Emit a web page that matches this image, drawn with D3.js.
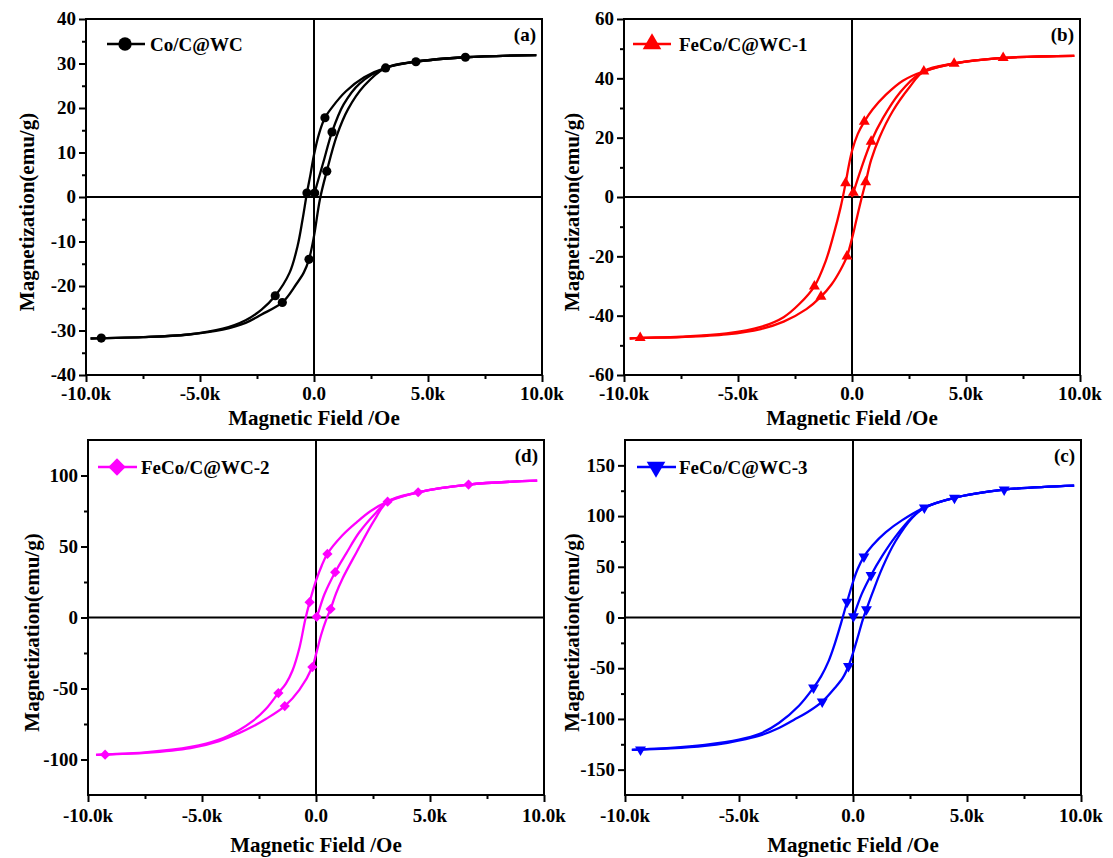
<!DOCTYPE html>
<html><head><meta charset="utf-8">
<script src="https://cdn.jsdelivr.net/npm/d3@7"></script>
<style>
body{margin:0;background:#fff;}
svg{display:block;}
</style>
</head><body>
<svg id="chart" width="1113" height="858" font-family="'Liberation Serif', 'Times New Roman', Times, serif" font-weight="bold"></svg>
<script>
// ---------------- DATA ----------------
const xTickValues = [-10000, -5000, 0, 5000, 10000];
const xTickLabels = ["-10.0k", "-5.0k", "0.0", "5.0k", "10.0k"];
const xMinorValues = [-7500, -2500, 2500, 7500];
const xTitle = "Magnetic Field /Oe";
const yTitle = "Magnetization(emu/g)";

// (a) Co/C@WC
const coName = "Co/C@WC";
const coYTicks = [-40, -30, -20, -10, 0, 10, 20, 30, 40];
const coYMinor = [-35, -25, -15, -5, 5, 15, 25, 35];
const coDesc = [[9750,31.9],[6640,31.4],[4470,30.4],[3140,29.0],[2200,26.9],[1390,23.7],[800,20.2],[480,17.8],[220,14.2],[0,9.5],[-150,5.2],[-310,0.9],[-500,-5.0],[-720,-11.0],[-1070,-17.0],[-1700,-22.2],[-2300,-25.3],[-3000,-27.7],[-4000,-29.6],[-5500,-30.9],[-7500,-31.5],[-9330,-31.7],[-9800,-31.8]];
const coAsc = [[-9800,-31.8],[-9330,-31.7],[-7500,-31.5],[-5500,-30.9],[-4000,-29.8],[-3000,-28.3],[-2300,-26.4],[-1390,-23.7],[-780,-19.6],[-450,-17.0],[-220,-14.0],[0,-8.8],[260,-0.5],[560,5.8],[1000,13.8],[1500,19.8],[2200,25.0],[3140,29.0],[4470,30.4],[6640,31.4],[9750,31.9]];
const coVirgin = [[0,0],[30,0.9],[410,7.8],[790,14.6],[1300,20.8],[2000,25.5],[3140,29.0],[4470,30.4],[6640,31.4],[9750,31.9]];
const coMarkers = [[-9330,-31.7],[-1700,-22.2],[-1390,-23.7],[-220,-14.0],[-310,0.9],[30,0.9],[560,5.8],[480,17.8],[790,14.6],[3140,29.0],[4470,30.4],[6640,31.4]];

// (b) FeCo/C@WC-1
const fe1Name = "FeCo/C@WC-1";
const fe1YTicks = [-60, -40, -20, 0, 20, 40, 60];
const fe1YMinor = [-50, -30, -10, 10, 30, 50];
const fe1Desc = [[9750,47.6],[6630,46.9],[4480,45.0],[3150,42.4],[2230,39.2],[1490,34.5],[900,29.5],[540,25.4],[250,21.2],[0,15.5],[-150,10.2],[-280,4.7],[-500,-3.5],[-800,-12.5],[-1150,-21.5],[-1650,-30.1],[-2300,-36.0],[-3000,-40.5],[-4000,-43.8],[-5500,-46.0],[-7500,-47.1],[-9290,-47.5],[-9750,-47.7]];
const fe1Asc = [[-9750,-47.7],[-9290,-47.5],[-7500,-47.2],[-5500,-46.3],[-4000,-44.5],[-3000,-42.0],[-2000,-37.8],[-1360,-33.6],[-900,-29.5],[-500,-24.5],[-220,-20.0],[0,-14.0],[200,-7.5],[400,-1.0],[600,5.0],[840,12.5],[1200,20.0],[1790,29.0],[2520,37.0],[3150,42.4],[4480,45.0],[6630,46.9],[9750,47.6]];
const fe1Virgin = [[0,0],[60,1.5],[400,9.5],[840,18.7],[1350,26.5],[2080,35.0],[2960,41.5],[4480,45.0],[6630,46.9],[9750,47.6]];
const fe1Markers = [[-9290,-47.5],[-1650,-30.1],[-1360,-33.6],[-220,-20.0],[-280,4.7],[60,1.5],[600,5.0],[540,25.4],[840,18.7],[3150,42.4],[4480,45.0],[6630,46.9]];

// (d) FeCo/C@WC-2
const fe2Name = "FeCo/C@WC-2";
const fe2YTicks = [-100, -50, 0, 50, 100];
const fe2YMinor = [-75, -25, 25, 75];
const fe2Desc = [[9700,96.4],[6690,93.6],[4480,88.2],[3140,81.6],[2400,75.0],[1780,67.0],[1150,57.7],[500,44.8],[250,36.5],[0,26.0],[-280,10.8],[-480,-2.1],[-720,-20.9],[-1030,-37.3],[-1320,-46.5],[-1650,-53.2],[-2200,-64.5],[-2780,-73.0],[-3400,-79.5],[-4250,-86.0],[-5500,-91.2],[-7500,-95.0],[-9250,-96.4],[-9650,-96.8]];
const fe2Asc = [[-9650,-96.8],[-9250,-96.6],[-7500,-95.4],[-5500,-92.0],[-4250,-87.0],[-3400,-81.6],[-2780,-76.8],[-2200,-71.5],[-1370,-62.4],[-730,-51.0],[-160,-34.9],[0,-26.0],[230,-12.0],[460,-1.0],[640,6.0],[880,17.0],[1150,27.0],[1780,46.0],[2560,68.5],[3140,81.6],[4480,88.2],[6690,93.6],[9700,96.4]];
const fe2Virgin = [[0,0],[30,0.5],[370,16.4],[840,31.9],[1320,45.0],[1900,60.0],[2640,74.0],[3140,81.6],[4480,88.2],[6690,93.6],[9700,96.4]];
const fe2Markers = [[-9250,-96.6],[-1650,-53.2],[-1370,-62.4],[-160,-34.9],[-280,10.8],[30,0.5],[640,6.0],[500,44.8],[840,31.9],[3140,81.6],[4480,88.2],[6690,93.6]];

// (c) FeCo/C@WC-3
const fe3Name = "FeCo/C@WC-3";
const fe3YTicks = [-150, -100, -50, 0, 50, 100, 150];
const fe3YMinor = [-125, -75, -25, 25, 75, 125];
const fe3Desc = [[9700,130],[6630,126],[4450,118],[3130,108.3],[2160,96],[1430,84],[850,71],[480,60],[200,47.5],[0,35],[-260,15.4],[-530,-6],[-800,-26],[-1070,-43],[-1400,-58],[-1730,-69.2],[-2370,-87],[-3250,-104],[-4120,-115],[-5000,-120.5],[-6500,-125.5],[-8000,-128.5],[-9320,-130],[-9700,-130.5]];
const fe3Asc = [[-9700,-130.5],[-9320,-130.2],[-8000,-129],[-6500,-126.5],[-5500,-123.5],[-4700,-120],[-4000,-115.8],[-3250,-109],[-2600,-101],[-2000,-93.5],[-1350,-83],[-800,-69.5],[-450,-59.5],[-200,-48],[0,-35],[220,-18.5],[430,-2],[590,8],[850,24],[1290,49.2],[1870,75.4],[2600,98.4],[3130,108.3],[4450,118],[6630,126],[9700,130]];
const fe3Virgin = [[0,0],[20,1],[380,23],[790,41.7],[1290,61],[1870,80],[2600,99],[3130,108.3],[4450,118],[6630,126],[9700,130]];
const fe3Markers = [[-9320,-130.2],[-1730,-69.2],[-1350,-83],[-200,-48],[-260,15.4],[20,1],[590,8],[480,60],[790,41.7],[3130,108.3],[4450,118],[6630,126]];

// ---------------- LAYOUT ----------------
const panels = [
  {name:coName, letter:"(a)", desc:coDesc, asc:coAsc, virgin:coVirgin, markers:coMarkers,
   yDomain:[-40,40], yTicks:coYTicks, yMinor:coYMinor, color:"#000000", sym:"circle",
   box:{x0:86,x1:542,y0:19,y1:375}, leg:{lx1:107,lx2:145,mx:125,tx:150,y:44},
   yTitleX:27, xTickY:400, xTitleY:425},
  {name:fe1Name, letter:"(b)", desc:fe1Desc, asc:fe1Asc, virgin:fe1Virgin, markers:fe1Markers,
   yDomain:[-60,60], yTicks:fe1YTicks, yMinor:fe1YMinor, color:"#ff0000", sym:"up",
   box:{x0:624,x1:1080,y0:19,y1:375}, leg:{lx1:633,lx2:671,mx:652,tx:679,y:44},
   yTitleX:572, xTickY:400, xTitleY:425},
  {name:fe2Name, letter:"(d)", desc:fe2Desc, asc:fe2Asc, virgin:fe2Virgin, markers:fe2Markers,
   yDomain:[-125,125], yTicks:fe2YTicks, yMinor:fe2YMinor, color:"#ff00ff", sym:"diamond",
   box:{x0:88,x1:544,y0:440,y1:795}, leg:{lx1:98,lx2:137,mx:117,tx:141,y:467},
   yTitleX:32, xTickY:822, xTitleY:852},
  {name:fe3Name, letter:"(c)", desc:fe3Desc, asc:fe3Asc, virgin:fe3Virgin, markers:fe3Markers,
   yDomain:[-175,175], yTicks:fe3YTicks, yMinor:fe3YMinor, color:"#0000ff", sym:"down",
   box:{x0:625,x1:1081,y0:440,y1:795}, leg:{lx1:637,lx2:676,mx:656,tx:679,y:467},
   yTitleX:572, xTickY:822, xTitleY:852}
];

const FONT = "'Liberation Serif', 'Times New Roman', Times, serif";
const svg = d3.select("#chart");

function symbolPath(type, big) {
  if (type === "circle") return d3.symbol(d3.symbolCircle, big ? 140 : 66)();
  if (type === "diamond") return d3.symbol(d3.symbolSquare, big ? 150 : 52)();
  return d3.symbol(d3.symbolTriangle, big ? 150 : 52)();
}
function symbolTransform(type, x, y) {
  if (type === "down") return `translate(${x},${y}) rotate(180)`;
  if (type === "diamond") return `translate(${x},${y}) rotate(45)`;
  return `translate(${x},${y})`;
}
function txt(sel, size) {
  return sel.attr("font-family", FONT).attr("font-weight", "bold").attr("fill", "#000")
    .style("font-family", FONT).style("font-weight", "bold").style("font-size", size + "px");
}

panels.forEach(p => {
  const b = p.box;
  const x = d3.scaleLinear().domain([-10000, 10000]).range([b.x0, b.x1]);
  const y = d3.scaleLinear().domain(p.yDomain).range([b.y1, b.y0]);
  const g = svg.append("g");

  // zero lines
  g.append("line").attr("x1", b.x0).attr("x2", b.x1).attr("y1", y(0)).attr("y2", y(0))
    .attr("stroke", "#000").attr("stroke-width", 2);
  g.append("line").attr("x1", x(0)).attr("x2", x(0)).attr("y1", b.y0).attr("y2", b.y1)
    .attr("stroke", "#000").attr("stroke-width", 2);

  // curves
  const line = d3.line().x(d => x(d[0])).y(d => y(d[1])).curve(d3.curveCatmullRom.alpha(0.5));
  [p.virgin, p.desc, p.asc].forEach(s => {
    g.append("path").attr("d", line(s)).attr("fill", "none")
      .attr("stroke", p.color).attr("stroke-width", 2.3).attr("stroke-linejoin", "round");
  });

  // markers
  g.selectAll(null).data(p.markers).enter().append("path")
    .attr("d", symbolPath(p.sym, false))
    .attr("transform", d => symbolTransform(p.sym, x(d[0]), y(d[1])))
    .attr("fill", p.color);

  // frame
  g.append("rect").attr("x", b.x0).attr("y", b.y0).attr("width", b.x1 - b.x0).attr("height", b.y1 - b.y0)
    .attr("fill", "none").attr("stroke", "#000").attr("stroke-width", 2);

  // x axis
  const xa = g.append("g").attr("transform", `translate(0,${b.y1})`)
    .call(d3.axisBottom(x).tickValues(xTickValues).tickSize(7).tickFormat(() => ""));
  const xm = g.append("g").attr("transform", `translate(0,${b.y1})`)
    .call(d3.axisBottom(x).tickValues(xMinorValues).tickSize(4).tickFormat(() => ""));
  [xa, xm].forEach(a => { a.select(".domain").remove(); a.selectAll("line").attr("stroke-width", 2); });
  txt(g.selectAll(null).data(xTickValues).enter().append("text")
    .attr("x", d => x(d)).attr("y", p.xTickY).attr("text-anchor", "middle")
    .text((d, i) => xTickLabels[i]), 19);

  // y axis
  const ya = g.append("g").attr("transform", `translate(${b.x0},0)`)
    .call(d3.axisLeft(y).tickValues(p.yTicks).tickSize(7).tickFormat(() => ""));
  const ym = g.append("g").attr("transform", `translate(${b.x0},0)`)
    .call(d3.axisLeft(y).tickValues(p.yMinor).tickSize(4).tickFormat(() => ""));
  [ya, ym].forEach(a => { a.select(".domain").remove(); a.selectAll("line").attr("stroke-width", 2); });
  txt(g.selectAll(null).data(p.yTicks).enter().append("text")
    .attr("x", b.x0 - 10).attr("y", d => y(d)).attr("dy", "0.33em").attr("text-anchor", "end")
    .text(d => d), 19);

  // titles
  txt(g.append("text").attr("x", (b.x0 + b.x1) / 2).attr("y", p.xTitleY).attr("text-anchor", "middle")
    .text(xTitle), 21);
  const yc = (b.y0 + b.y1) / 2 + 15;
  txt(g.append("text").attr("transform", `translate(${p.yTitleX},${yc}) rotate(-90)`)
    .attr("dy", "0.35em").attr("text-anchor", "middle").text(yTitle), 21);

  // panel letter
  txt(g.append("text").attr("x", b.x1 - 6).attr("y", b.y0 + 22).attr("text-anchor", "end")
    .text(p.letter), 19);

  // legend
  const L = p.leg;
  g.append("line").attr("x1", L.lx1).attr("x2", L.lx2).attr("y1", L.y).attr("y2", L.y)
    .attr("stroke", p.color).attr("stroke-width", 2.5);
  g.append("path").attr("d", symbolPath(p.sym, true))
    .attr("transform", symbolTransform(p.sym, L.mx, L.y)).attr("fill", p.color);
  txt(g.append("text").attr("x", L.tx).attr("y", L.y).attr("dy", "0.35em")
    .text(p.name), 19);
});
</script>
</body></html>
